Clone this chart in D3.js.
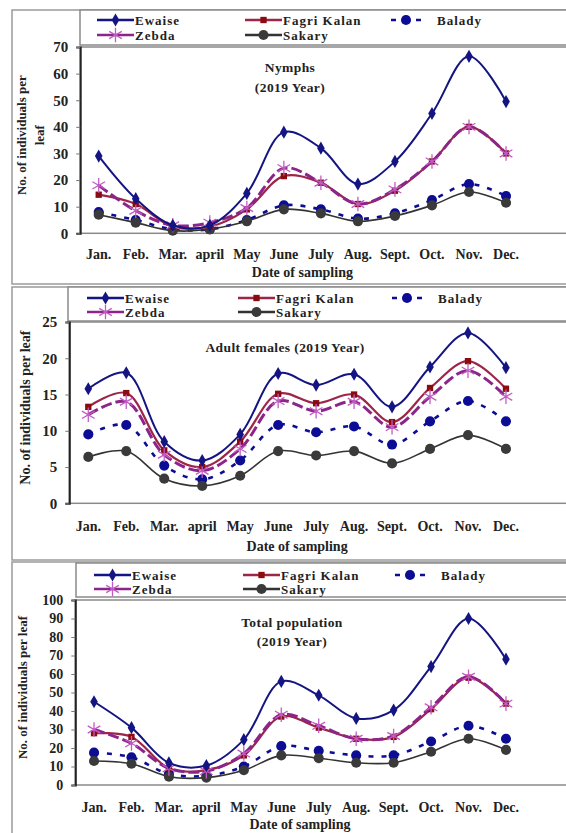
<html>
<head>
  <script src="https://d3js.org/d3.v7.min.js"></script>
  <style>
    body { margin: 0; background: #fff; }
    svg text { font-family: "Liberation Serif", "Times New Roman", serif; font-weight: bold; fill: #222; }
  </style>
</head>
<body>
  <svg id="root" width="566" height="833"></svg>
  <script>
    // months on the x axis
    var months = ['Jan.', 'Feb.', 'Mar.', 'april', 'May', 'June', 'July', 'Aug.', 'Sept.', 'Oct.', 'Nov.', 'Dec.'];
    var seriesNames = ['Ewaise', 'Fagri Kalan', 'Balady', 'Zebda', 'Sakary'];

    // Nymphs (2019)
    var nymphEwaise = [29, 13, 3, 3, 15, 38, 32, 18.5, 27, 45, 66.5, 49.5];
    var nymphFagri = [14.5, 11, 2.5, 2.5, 9, 21.5, 19, 11, 16, 27, 40, 30];
    var nymphBalady = [8, 5, 1.5, 1.5, 5, 10.5, 9, 5.5, 7.5, 12.5, 18.5, 14];
    var nymphZebda = [18, 8.5, 3, 4, 9.5, 24.5, 19, 11, 16.5, 27, 40, 30];
    var nymphSakary = [7, 4, 1, 1.5, 4.5, 9, 7.5, 4.5, 6.5, 10.5, 15.5, 11.5];

    // Adult females (2019)
    var adultEwaise = [15.8, 18, 8.5, 5.9, 9.5, 17.9, 16.3, 17.8, 13.3, 18.8, 23.5, 18.7];
    var adultFagri = [13.3, 15.2, 7.3, 5, 8.5, 15.1, 13.8, 15, 11.2, 15.9, 19.6, 15.8];
    var adultBalady = [9.5, 10.8, 5.2, 3.3, 5.9, 10.8, 9.8, 10.6, 8.1, 11.3, 14.1, 11.3];
    var adultZebda = [12.2, 14, 6.7, 4.5, 7.5, 14.1, 12.7, 14, 10.5, 14.7, 18.3, 14.7];
    var adultSakary = [6.4, 7.2, 3.4, 2.4, 3.8, 7.2, 6.6, 7.2, 5.5, 7.5, 9.4, 7.5];

    // Total population (2019)
    var totalEwaise = [45, 31, 12, 10.5, 24.5, 56, 48.5, 36, 40.5, 64, 90, 68];
    var totalFagri = [28, 26, 9, 8, 16, 37, 31, 25, 26, 41, 58, 44];
    var totalBalady = [17.5, 15, 6, 5, 10, 21, 18.5, 16, 16, 23.5, 32, 25];
    var totalZebda = [30, 22.5, 9, 7.5, 17, 38, 32, 25, 26.5, 42, 58.5, 44];
    var totalSakary = [13, 11.5, 4.5, 4, 8, 16, 14.5, 12, 12, 18, 25, 19];

    var styles = {
      'Ewaise': { line: '#141482', marker: '#141482', symbol: d3.symbolDiamond, size: 50, width: 2, dash: null },
      'Fagri Kalan': { line: '#9c2648', marker: '#8a0c10', symbol: d3.symbolSquare, size: 40, width: 2.2, dash: null },
      'Zebda': { line: '#8c2489', marker: '#c25cc4', symbol: d3.symbolAsterisk, size: 150, width: 3, dash: '11,4' },
      'Balady': { line: '#0c0c94', marker: '#0c0c94', symbol: d3.symbolCircle, size: 80, width: 2.6, dash: '5,8' },
      'Sakary': { line: '#333333', marker: '#3a3a3a', symbol: d3.symbolCircle, size: 80, width: 1.6, dash: null }
    };

    var panels = [
      {
        data: { 'Ewaise': nymphEwaise, 'Fagri Kalan': nymphFagri, 'Balady': nymphBalady, 'Zebda': nymphZebda, 'Sakary': nymphSakary },
        frameY: 10, frameH: 274, legX: 80, legY: 10, legH: 35, rows: [20, 35], cols: [97, 245, 391],
        x0: 80.2, bw: 37.03, top: 47, bottom: 233.3, max: 70, step: 10, tickFont: 15,
        title: ['Nymphs', '(2019 Year)'], titleX: 290, titleY: [72, 92],
        yTitle: ['No. of individuals per', 'leaf'], yTitleX: [26, 44], yTitleFont: 13,
        monthY: 259, xTitleY: 277
      },
      {
        data: { 'Ewaise': adultEwaise, 'Fagri Kalan': adultFagri, 'Balady': adultBalady, 'Zebda': adultZebda, 'Sakary': adultSakary },
        frameY: 287, frameH: 273, legX: 68, legY: 287, legH: 34, rows: [298, 312], cols: [87, 238, 392],
        x0: 69.3, bw: 37.97, top: 322, bottom: 503.3, max: 25, step: 5, tickFont: 15,
        title: ['Adult females (2019 Year)'], titleX: 285, titleY: [352],
        yTitle: ['No. of individuals per leaf'], yTitleX: [30], yTitleFont: 14,
        monthY: 531, xTitleY: 551
      },
      {
        data: { 'Ewaise': totalEwaise, 'Fagri Kalan': totalFagri, 'Balady': totalBalady, 'Zebda': totalZebda, 'Sakary': totalSakary },
        frameY: 562, frameH: 300, legX: 76, legY: 563, legH: 34, rows: [575, 589], cols: [94, 243, 395],
        x0: 75.3, bw: 37.45, top: 600, bottom: 785, max: 100, step: 10, tickFont: 14,
        title: ['Total population', '(2019 Year)'], titleX: 292, titleY: [627, 646],
        yTitle: ['No. of individuals per leaf'], yTitleX: [27], yTitleFont: 13,
        monthY: 812, xTitleY: 829
      }
    ];

    var svg = d3.select('#root');
    var drawOrder = ['Balady', 'Sakary', 'Fagri Kalan', 'Zebda', 'Ewaise'];

    function marker(g, name, x, y) {
      var s = styles[name];
      var p = g.append('path')
        .attr('d', d3.symbol().type(s.symbol).size(s.size))
        .attr('transform', 'translate(' + x + ',' + y + ')');
      if (name === 'Zebda') {
        p.attr('fill', 'none').attr('stroke', s.marker).attr('stroke-width', 1.3);
      } else {
        p.attr('fill', s.marker);
      }
    }

    panels.forEach(function (p) {
      var g = svg.append('g');

      // outer frame
      g.append('rect')
        .attr('x', 12).attr('y', p.frameY).attr('width', 600).attr('height', p.frameH)
        .attr('fill', 'none').attr('stroke', '#9a9a9a').attr('stroke-width', 1.5);

      // legend box
      g.append('rect')
        .attr('x', p.legX).attr('y', p.legY).attr('width', 600).attr('height', p.legH)
        .attr('fill', '#fff').attr('stroke', '#8a8a8a').attr('stroke-width', 1.5);

      var legendItems = [
        { name: 'Ewaise', col: 0, row: 0 }, { name: 'Fagri Kalan', col: 1, row: 0 },
        { name: 'Balady', col: 2, row: 0 }, { name: 'Zebda', col: 0, row: 1 },
        { name: 'Sakary', col: 1, row: 1 }
      ];
      legendItems.forEach(function (it) {
        var s = styles[it.name];
        var lx = p.cols[it.col], ly = p.rows[it.row];
        if (it.name === 'Balady') {
          g.append('line').attr('x1', lx).attr('x2', lx + 30).attr('y1', ly).attr('y2', ly)
            .attr('stroke', s.line).attr('stroke-width', 2.5).attr('stroke-dasharray', '5,20');
          marker(g, it.name, lx + 15, ly);
          g.append('text').attr('x', lx + 46).attr('y', ly + 4.5)
            .attr('font-size', 13).attr('letter-spacing', 1).text(it.name);
        } else {
          g.append('line').attr('x1', lx).attr('x2', lx + 37).attr('y1', ly).attr('y2', ly)
            .attr('stroke', s.line).attr('stroke-width', 2.5);
          marker(g, it.name, lx + 18.5, ly);
          g.append('text').attr('x', lx + 38).attr('y', ly + 4.5)
            .attr('font-size', 13).attr('letter-spacing', 1).text(it.name);
        }
      });

      // plot area
      g.append('rect')
        .attr('x', p.x0).attr('y', p.top).attr('width', 600).attr('height', p.bottom - p.top)
        .attr('fill', '#fff').attr('stroke', '#8a8a8a').attr('stroke-width', 1.5);

      var x = d3.scaleBand().domain(months).range([p.x0, p.x0 + 12 * p.bw]);
      var y = d3.scaleLinear().domain([0, p.max]).range([p.bottom, p.top]);

      var yAxis = g.append('g')
        .attr('transform', 'translate(' + p.x0 + ',0)')
        .call(d3.axisLeft(y).tickValues(d3.range(0, p.max + 0.001, p.step)).tickSize(4).tickPadding(8));
      yAxis.select('.domain').attr('stroke', '#222').attr('stroke-width', 2);
      yAxis.selectAll('.tick line').attr('stroke', '#777');
      yAxis.selectAll('text').attr('font-size', p.tickFont).attr('font-family', '"Liberation Serif", serif').attr('fill', '#222');

      // month labels
      g.selectAll('.month')
        .data(months).enter().append('text')
        .attr('x', function (d) { return x(d) + x.bandwidth() / 2; })
        .attr('y', p.monthY)
        .attr('text-anchor', 'middle')
        .attr('font-size', 14)
        .text(function (d) { return d; });

      g.append('text').attr('x', p.x0 + 6 * p.bw).attr('y', p.xTitleY)
        .attr('text-anchor', 'middle').attr('font-size', 14).text('Date of sampling');

      // y title
      var yMid = (p.top + p.bottom) / 2 - 5;
      p.yTitle.forEach(function (t, i) {
        g.append('text')
          .attr('transform', 'translate(' + p.yTitleX[i] + ',' + yMid + ') rotate(-90)')
          .attr('text-anchor', 'middle').attr('font-size', p.yTitleFont).text(t);
      });

      // chart title
      p.title.forEach(function (t, i) {
        g.append('text').attr('x', p.titleX).attr('y', p.titleY[i])
          .attr('text-anchor', 'middle').attr('font-size', 13.5).attr('letter-spacing', 0.4).text(t);
      });

      var line = d3.line()
        .x(function (d, i) { return x(months[i]) + x.bandwidth() / 2; })
        .y(function (d) { return y(d); })
        .curve(d3.curveCatmullRom.alpha(0.5));

      drawOrder.forEach(function (name) {
        var s = styles[name];
        var vals = p.data[name];
        g.append('path')
          .datum(vals)
          .attr('fill', 'none')
          .attr('stroke', s.line)
          .attr('stroke-width', s.width)
          .attr('stroke-dasharray', s.dash)
          .attr('d', line);
        vals.forEach(function (v, i) {
          marker(g, name, x(months[i]) + x.bandwidth() / 2, y(v));
        });
      });
    });
  </script>
</body>
</html>
